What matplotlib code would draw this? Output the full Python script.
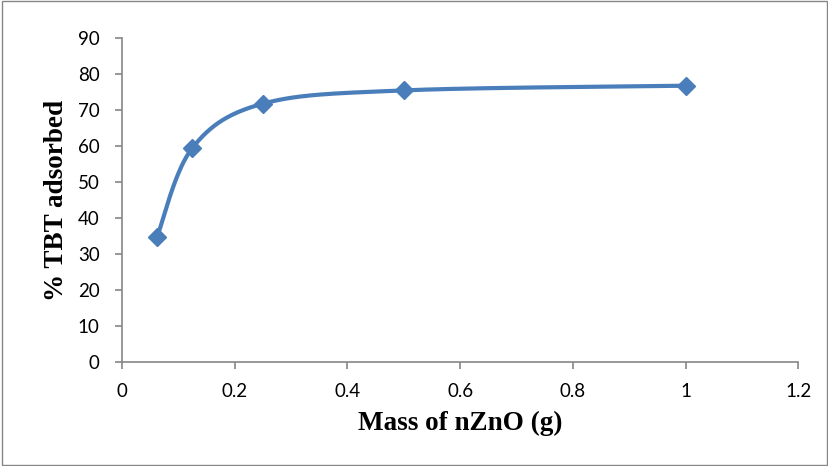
import numpy as np
import matplotlib
matplotlib.use("Agg")
import matplotlib.pyplot as plt
from matplotlib.patches import Rectangle

mass_g = [0.0625, 0.125, 0.25, 0.5, 1.0]
tbt_adsorbed = [34.8, 59.5, 71.8, 75.5, 76.8]
x_ticks = [0, 0.2, 0.4, 0.6, 0.8, 1, 1.2]
x_tick_labels = ["0", "0.2", "0.4", "0.6", "0.8", "1", "1.2"]
y_ticks = list(range(0, 91, 10))

LINE = "#4A7EBB"
AXIS = "#868686"


def smooth_curve(x, y, n=60):
    """Cardinal-spline smoothing through the points (spreadsheet style)."""
    x = np.asarray(x, float)
    y = np.asarray(y, float)
    px = np.concatenate([[x[0]], x, [x[-1]]])
    py = np.concatenate([[y[0]], y, [y[-1]]])
    xs, ys = [], []
    for i in range(1, len(px) - 2):
        p0 = np.array([px[i - 1], py[i - 1]])
        p1 = np.array([px[i], py[i]])
        p2 = np.array([px[i + 1], py[i + 1]])
        p3 = np.array([px[i + 2], py[i + 2]])
        c1 = p1 + (p2 - p0) / 6.0
        c2 = p2 - (p3 - p1) / 6.0
        t = np.linspace(0, 1, n)[:, None]
        b = ((1 - t) ** 3) * p1 + 3 * ((1 - t) ** 2) * t * c1 + 3 * (1 - t) * t ** 2 * c2 + t ** 3 * p2
        xs.append(b[:, 0])
        ys.append(b[:, 1])
    return np.concatenate(xs), np.concatenate(ys)


fig = plt.figure(figsize=(8.29, 4.66), dpi=100)
ax = fig.add_axes([0.147, 0.223, 0.816, 0.695])

sx, sy = smooth_curve(mass_g, tbt_adsorbed)
ax.plot(sx, sy, color=LINE, lw=3, solid_capstyle="round", zorder=2)
ax.plot(mass_g, tbt_adsorbed, linestyle="none", marker="D", markersize=9,
        color=LINE, zorder=3)

ax.set_xlim(0, 1.2)
ax.set_ylim(0, 90)
ax.set_xticks(x_ticks)
ax.set_xticklabels(x_tick_labels)
ax.set_yticks(y_ticks)

for side in ("top", "right"):
    ax.spines[side].set_visible(False)
for side in ("left", "bottom"):
    ax.spines[side].set_color(AXIS)
    ax.spines[side].set_linewidth(1.2)
ax.tick_params(axis="both", direction="out", length=5, width=1.2, color=AXIS,
               labelsize=13.5)
ax.tick_params(axis="x", pad=10)
ax.tick_params(axis="y", pad=11)
for lab in ax.get_xticklabels() + ax.get_yticklabels():
    lab.set_fontfamily("Lato")

ax.set_xlabel("Mass of nZnO (g)", fontfamily="Liberation Serif", fontweight="bold",
              fontsize=19.5, labelpad=8)
ax.set_ylabel("% TBT adsorbed", fontfamily="Liberation Serif", fontweight="bold",
              fontsize=19.5, labelpad=6)

fig.patches.append(Rectangle((0.002, 0.003), 0.996, 0.994, transform=fig.transFigure,
                             fill=False, edgecolor=AXIS, linewidth=1))

fig.savefig("out.png", dpi=100)
